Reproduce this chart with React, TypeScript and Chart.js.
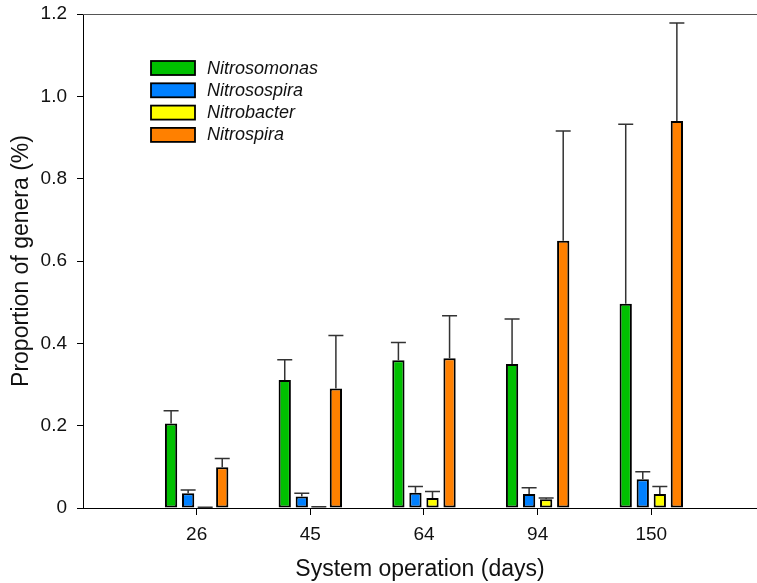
import React, { useEffect, useRef } from "react";
import { Chart, registerables } from "chart.js";

Chart.register(...registerables);

const days = ["26", "45", "64", "94", "150"];
const seriesNames = ["Nitrosomonas", "Nitrosospira", "Nitrobacter", "Nitrospira"];
const nitrosomonas = [0.205, 0.311, 0.359, 0.35, 0.496];
const nitrosomonasErr = [0.031, 0.049, 0.043, 0.109, 0.436];
const nitrosospira = [0.036, 0.028, 0.037, 0.034, 0.07];
const nitrosospiraErr = [0.008, 0.008, 0.015, 0.015, 0.018];
const nitrobacter = [0.001, 0.002, 0.024, 0.021, 0.034];
const nitrobacterErr = [0.001, 0.001, 0.016, 0.003, 0.018];
const nitrospira = [0.099, 0.29, 0.364, 0.649, 0.94];
const nitrospiraErr = [0.021, 0.129, 0.103, 0.267, 0.238];
const yTicks = [0, 0.2, 0.4, 0.6, 0.8, 1.0, 1.2];

const colors = ["#00C000", "#0080FF", "#FFFF00", "#FF8000"];
const FONT = "'Liberation Sans', Arial, sans-serif";

const values = [nitrosomonas, nitrosospira, nitrobacter, nitrospira];
const errors = [nitrosomonasErr, nitrosospiraErr, nitrobacterErr, nitrospiraErr];

const errorBarPlugin = {
  id: "errorBars",
  afterDatasetsDraw(chart: any) {
    const ctx = chart.ctx;
    const yScale = chart.scales.y;
    ctx.save();
    ctx.strokeStyle = "#333";
    ctx.lineWidth = 1.5;
    chart.data.datasets.forEach((ds: any, di: number) => {
      const meta = chart.getDatasetMeta(di);
      meta.data.forEach((el: any, i: number) => {
        const v = values[di][i];
        const e = errors[di][i];
        const yTop = yScale.getPixelForValue(v + e);
        const yBar = yScale.getPixelForValue(v);
        const x = el.x;
        const half = 7.5;
        ctx.beginPath();
        ctx.moveTo(x, yBar);
        ctx.lineTo(x, yTop);
        ctx.moveTo(x - half, yTop);
        ctx.lineTo(x + half, yTop);
        ctx.stroke();
      });
    });
    ctx.restore();
  },
};

const framePlugin = {
  id: "frameAndLegend",
  afterDraw(chart: any) {
    const ctx = chart.ctx;
    const a = chart.chartArea;
    ctx.save();
    // top border line
    ctx.strokeStyle = "#555";
    ctx.lineWidth = 1.2;
    ctx.beginPath();
    ctx.moveTo(a.left, a.top + 0.5);
    ctx.lineTo(a.right, a.top + 0.5);
    ctx.stroke();
    // legend
    const bx = a.left + 68;
    const by = a.top + 47;
    const rowH = 22.3;
    ctx.font = `italic 18px ${FONT}`;
    ctx.textBaseline = "middle";
    ctx.textAlign = "left";
    seriesNames.forEach((name, i) => {
      const y = by + i * rowH;
      ctx.fillStyle = colors[i];
      ctx.fillRect(bx, y, 44, 14);
      ctx.strokeStyle = "#000";
      ctx.lineWidth = 1.8;
      ctx.strokeRect(bx, y, 44, 14);
      ctx.fillStyle = "#111";
      ctx.fillText(name, bx + 56, y + 7.5);
    });
    ctx.restore();
  },
};

export default function App() {
  const ref = useRef<HTMLCanvasElement>(null);
  useEffect(() => {
    if (!ref.current) return;
    const chart = new Chart(ref.current, {
      type: "bar",
      data: {
        datasets: seriesNames.map((name, di) => ({
          label: name,
          data: values[di].map((v, i) => ({ x: i + 1, y: v })),
          backgroundColor: colors[di],
          borderColor: "#000",
          borderWidth: 2,
          borderSkipped: false,
          barPercentage: 0.72,
          categoryPercentage: 0.6,
        })),
      },
      options: {
        animation: false,
        responsive: false,
        devicePixelRatio: 1,
        layout: { padding: { top: 14, right: 0, left: 0, bottom: 0 } },
        plugins: { legend: { display: false }, tooltip: { enabled: false } },
        scales: {
          x: {
            type: "linear",
            min: 0,
            max: 5.93,
            offset: false,
            afterBuildTicks: (scale: any) => {
              scale.ticks = days.map((_, i) => ({ value: i + 1 }));
            },
            afterFit: (scale: any) => {
              scale.height = 75;
              scale.paddingLeft = 0;
              scale.paddingRight = 0;
            },
            ticks: {
              autoSkip: false,
              maxRotation: 0,
              padding: 8,
              color: "#111",
              font: { family: FONT, size: 19 },
              callback: (v: any) => days[Number(v) - 1] ?? "",
            },
            grid: { offset: false, drawOnChartArea: false, drawTicks: true, tickLength: 7, color: "#000", lineWidth: 1 },
            border: { display: true, color: "#000", width: 1 },
            title: {
              display: true,
              text: "System operation (days)",
              color: "#111",
              font: { family: FONT, size: 23 },
              padding: { top: 0, bottom: 0 },
            },
          },
          y: {
            min: 0,
            max: 1.2,
            afterBuildTicks: (scale: any) => {
              scale.ticks = yTicks.map((v) => ({ value: v }));
            },
            afterFit: (scale: any) => {
              scale.width = 83;
              scale.paddingTop = 0;
              scale.paddingBottom = 0;
            },
            ticks: {
              padding: 10,
              color: "#111",
              font: { family: FONT, size: 19 },
              callback: (v: any) => (Number(v) === 0 ? "0" : Number(v).toFixed(1)),
            },
            grid: { drawOnChartArea: false, drawTicks: true, tickLength: 6, color: "#000", lineWidth: 1 },
            border: { display: true, color: "#000", width: 1 },
            title: {
              display: true,
              text: "Proportion of genera (%)",
              color: "#111",
              font: { family: FONT, size: 23 },
              padding: { top: 8, bottom: 0 },
            },
          },
        },
      } as any,
      plugins: [errorBarPlugin, framePlugin],
    });
    return () => chart.destroy();
  }, []);
  return (
    <div style={{ position: "absolute", left: 0, top: 0, width: 757, height: 583, background: "#fff" }}>
      <canvas ref={ref} width={757} height={583} />
    </div>
  );
}
